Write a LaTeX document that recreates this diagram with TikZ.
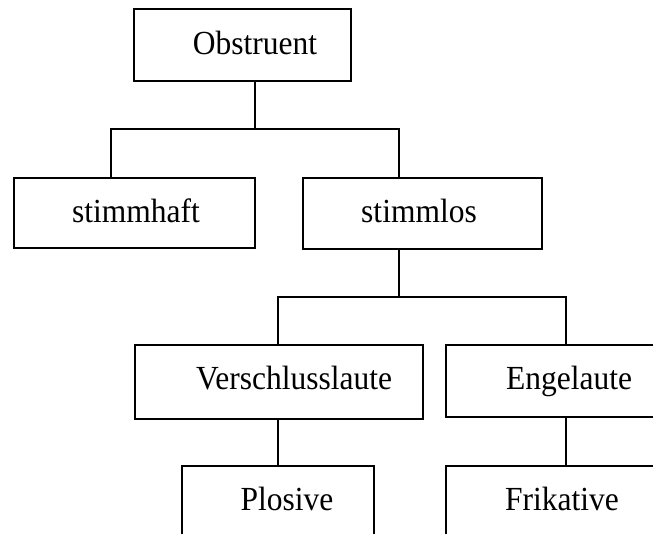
\documentclass[tikz,border=0pt]{standalone}
\usepackage{graphicx}
\usepackage{fontspec}
\setmainfont{Liberation Serif}
\newcommand\tallword[1]{\scalebox{1}[1.07]{#1}}
\begin{document}
\begin{tikzpicture}[x=1pt,y=-1pt,
  box/.style={draw, line width=1.5pt, rectangle, inner sep=0pt},
  txt/.style={anchor=base, inner sep=0pt, font=\fontsize{31.5}{36}\selectfont},
  link/.style={line width=1.5pt}]
\useasboundingbox (0,0) rectangle (653,533);
\clip (0,0) rectangle (653,533);

% boxes
\node[box, minimum width=217, minimum height=72] (obs)  at (242.5,45) {};
\node[box, minimum width=241, minimum height=70] (haft) at (134.5,213) {};
\node[box, minimum width=239, minimum height=71] (los)  at (422.5,213.5) {};
\node[box, minimum width=288, minimum height=74] (vers) at (279,382) {};
\node[box, minimum width=254, minimum height=72] (enge) at (573,381) {};
\node[box, minimum width=192, minimum height=94] (plos) at (278,513) {};
\node[box, minimum width=254, minimum height=94] (frik) at (573,513) {};

% labels
\node[txt] at (255,54)    {\tallword{Obstruent}};
\node[txt] at (136,222.5) {\tallword{stimmhaft}};
\node[txt] at (419,222.5) {\tallword{stimmlos}};
\node[txt] at (294,389)   {\tallword{Verschlusslaute}};
\node[txt] at (569,389)   {\tallword{Engelaute}};
\node[txt] at (287,510)   {\tallword{Plosive}};
\node[txt] at (562,510)   {\tallword{Frikative}};

% junctions
\coordinate (t1) at (255,129);
\coordinate (l1) at (111,129);
\coordinate (r1) at (399,129);
\coordinate (t2) at (399,297);
\coordinate (l2) at (278,297);
\coordinate (r2) at (566,297);

% connectors
\draw[link] (obs.south -| t1) -- (t1);
\draw[link] (haft.north -| l1) -- (l1) -- (r1) -- (los.north -| r1);
\draw[link] (los.south -| t2) -- (t2);
\draw[link] (vers.north -| l2) -- (l2) -- (r2) -- (enge.north -| r2);
\draw[link] (vers.south -| l2) -- (plos.north -| l2);
\draw[link] (enge.south -| r2) -- (frik.north -| r2);
\end{tikzpicture}
\end{document}
